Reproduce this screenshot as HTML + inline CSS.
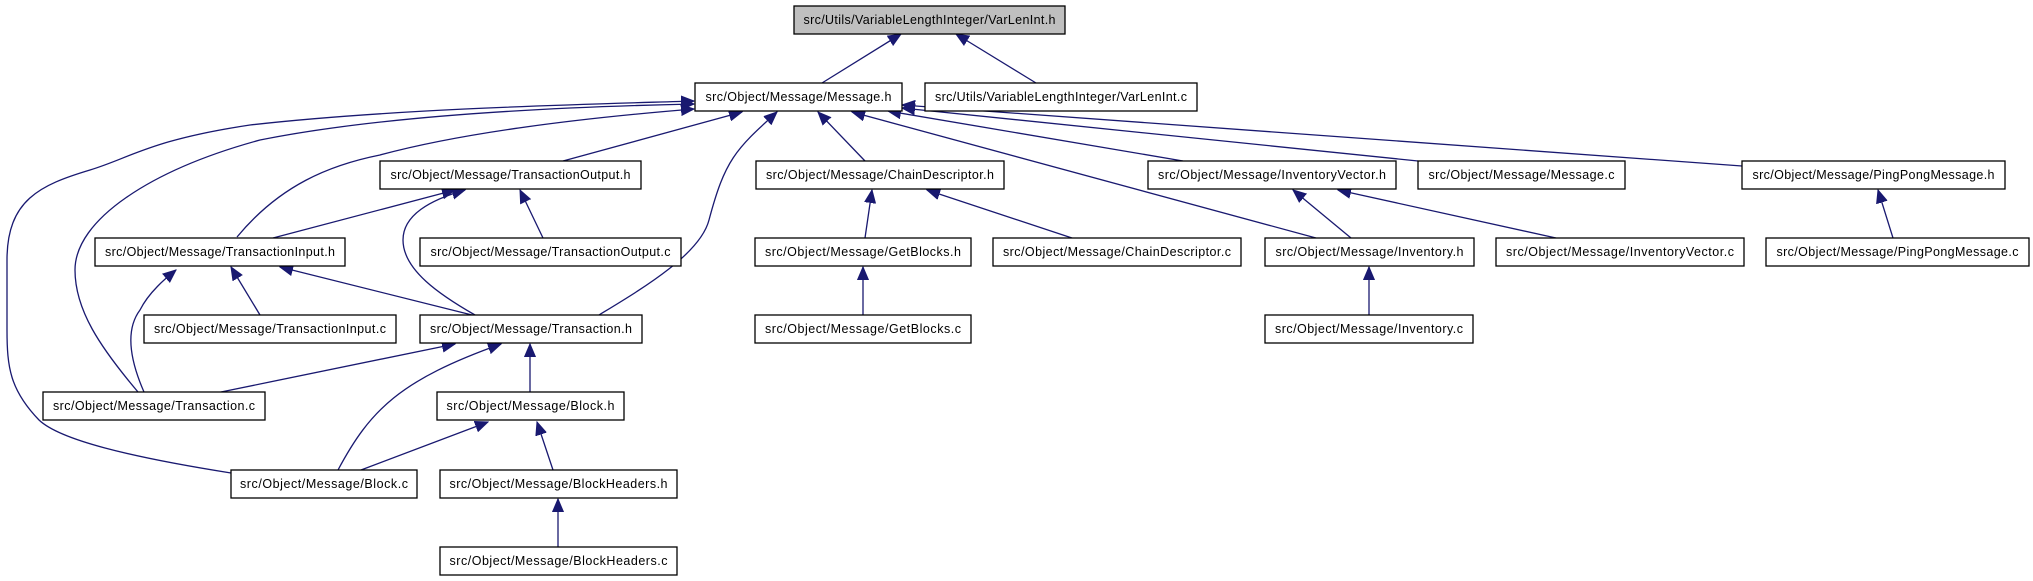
<!DOCTYPE html>
<html><head><meta charset="utf-8"><style>
html,body{margin:0;padding:0;background:#fff;}
svg{display:block;}
text{font-family:"Liberation Sans",sans-serif;font-size:12.5px;fill:#000;}
</style></head><body>
<svg width="2033" height="581" viewBox="0 0 2033 581" xmlns="http://www.w3.org/2000/svg">
<defs>
<marker id="a" markerUnits="userSpaceOnUse" markerWidth="14" markerHeight="12" refX="13" refY="6" orient="auto">
<path d="M0,0.5 L13,6 L0,11.5 Z" fill="#191970" stroke="#191970"/>
</marker>
</defs>
<g fill="none" stroke="#191970" stroke-width="1.3" marker-end="url(#a)">
<path d="M822,83 L901,34"/>
<path d="M1036,83 L956,34"/>
<path d="M231,473 C130,457 60,440 39,420 C10,390 7,367 7,330 L7,260 C7,200 40,185 90,170 C130,158 150,140 250,125 C400,108 600,104 694,101"/>
<path d="M138,392 C100,347 75,310 75,270 C75,220 150,170 260,140 C400,112 600,106 694,104"/>
<path d="M144,392 C130,360 125,330 140,310 C150,290 170,275 176,270"/>
<path d="M237,237 C280,185 330,165 380,155 C480,128 620,115 694,109"/>
<path d="M563,161 L742,112"/>
<path d="M599,315 C640,290 700,255 709,220 C725,160 735,150 777,112"/>
<path d="M865,161 L818,112"/>
<path d="M1316,238 L852,112"/>
<path d="M1183,161 L888,111"/>
<path d="M1418,161 L902,108"/>
<path d="M1742,166 L902,105"/>
<path d="M273,238 L455,190"/>
<path d="M475,315 C440,295 403,270 403,240 C403,215 430,200 465,190"/>
<path d="M543,238 L520,190"/>
<path d="M260,315 L231,267"/>
<path d="M472,315 L280,267"/>
<path d="M221,392 L455,344"/>
<path d="M338,470 C370,410 400,380 501,344"/>
<path d="M530,392 L530,344"/>
<path d="M361,470 L488,422"/>
<path d="M553,470 L537,422"/>
<path d="M558,547 L558,499"/>
<path d="M865,238 L872,190"/>
<path d="M1072,238 L927,190"/>
<path d="M863,315 L863,267"/>
<path d="M1351,238 L1293,190"/>
<path d="M1556,238 L1338,190"/>
<path d="M1893,238 L1878,190"/>
<path d="M1369,315 L1369,267"/>
</g>
<g stroke="#000" stroke-width="1.3">
<rect x="794" y="6" width="271" height="28" fill="#bfbfbf"/>
<rect x="695" y="83" width="207" height="28" fill="#fff"/>
<rect x="925" y="83" width="272" height="28" fill="#fff"/>
<rect x="380" y="161" width="261" height="28" fill="#fff"/>
<rect x="756" y="161" width="248" height="28" fill="#fff"/>
<rect x="1148" y="161" width="248" height="28" fill="#fff"/>
<rect x="1418" y="161" width="207" height="28" fill="#fff"/>
<rect x="1742" y="161" width="263" height="28" fill="#fff"/>
<rect x="95" y="238" width="250" height="28" fill="#fff"/>
<rect x="420" y="238" width="261" height="28" fill="#fff"/>
<rect x="755" y="238" width="216" height="28" fill="#fff"/>
<rect x="993" y="238" width="248" height="28" fill="#fff"/>
<rect x="1265" y="238" width="209" height="28" fill="#fff"/>
<rect x="1496" y="238" width="248" height="28" fill="#fff"/>
<rect x="1766" y="238" width="263" height="28" fill="#fff"/>
<rect x="144" y="315" width="252" height="28" fill="#fff"/>
<rect x="420" y="315" width="222" height="28" fill="#fff"/>
<rect x="755" y="315" width="216" height="28" fill="#fff"/>
<rect x="1265" y="315" width="208" height="28" fill="#fff"/>
<rect x="43" y="392" width="222" height="28" fill="#fff"/>
<rect x="437" y="392" width="187" height="28" fill="#fff"/>
<rect x="231" y="470" width="186" height="28" fill="#fff"/>
<rect x="440" y="470" width="237" height="28" fill="#fff"/>
<rect x="440" y="547" width="237" height="28" fill="#fff"/>
</g>
<g text-anchor="middle" lengthAdjust="spacingAndGlyphs">
<text x="929.5" y="24" textLength="252">src/Utils/VariableLengthInteger/VarLenInt.h</text>
<text x="798.5" y="101" textLength="186">src/Object/Message/Message.h</text>
<text x="1061" y="101" textLength="252">src/Utils/VariableLengthInteger/VarLenInt.c</text>
<text x="510.5" y="179" textLength="240">src/Object/Message/TransactionOutput.h</text>
<text x="880" y="179" textLength="228">src/Object/Message/ChainDescriptor.h</text>
<text x="1272" y="179" textLength="228">src/Object/Message/InventoryVector.h</text>
<text x="1521.5" y="179" textLength="186">src/Object/Message/Message.c</text>
<text x="1873.5" y="179" textLength="242">src/Object/Message/PingPongMessage.h</text>
<text x="220" y="256" textLength="230">src/Object/Message/TransactionInput.h</text>
<text x="550.5" y="256" textLength="240">src/Object/Message/TransactionOutput.c</text>
<text x="863" y="256" textLength="196">src/Object/Message/GetBlocks.h</text>
<text x="1117" y="256" textLength="228">src/Object/Message/ChainDescriptor.c</text>
<text x="1369.5" y="256" textLength="188">src/Object/Message/Inventory.h</text>
<text x="1620" y="256" textLength="228">src/Object/Message/InventoryVector.c</text>
<text x="1897.5" y="256" textLength="242">src/Object/Message/PingPongMessage.c</text>
<text x="270" y="333" textLength="232">src/Object/Message/TransactionInput.c</text>
<text x="531" y="333" textLength="202">src/Object/Message/Transaction.h</text>
<text x="863" y="333" textLength="196">src/Object/Message/GetBlocks.c</text>
<text x="1369" y="333" textLength="188">src/Object/Message/Inventory.c</text>
<text x="154" y="410" textLength="202">src/Object/Message/Transaction.c</text>
<text x="530.5" y="410" textLength="168">src/Object/Message/Block.h</text>
<text x="324" y="488" textLength="168">src/Object/Message/Block.c</text>
<text x="558.5" y="488" textLength="218">src/Object/Message/BlockHeaders.h</text>
<text x="558.5" y="565" textLength="218">src/Object/Message/BlockHeaders.c</text>
</g>
</svg>
</body></html>
